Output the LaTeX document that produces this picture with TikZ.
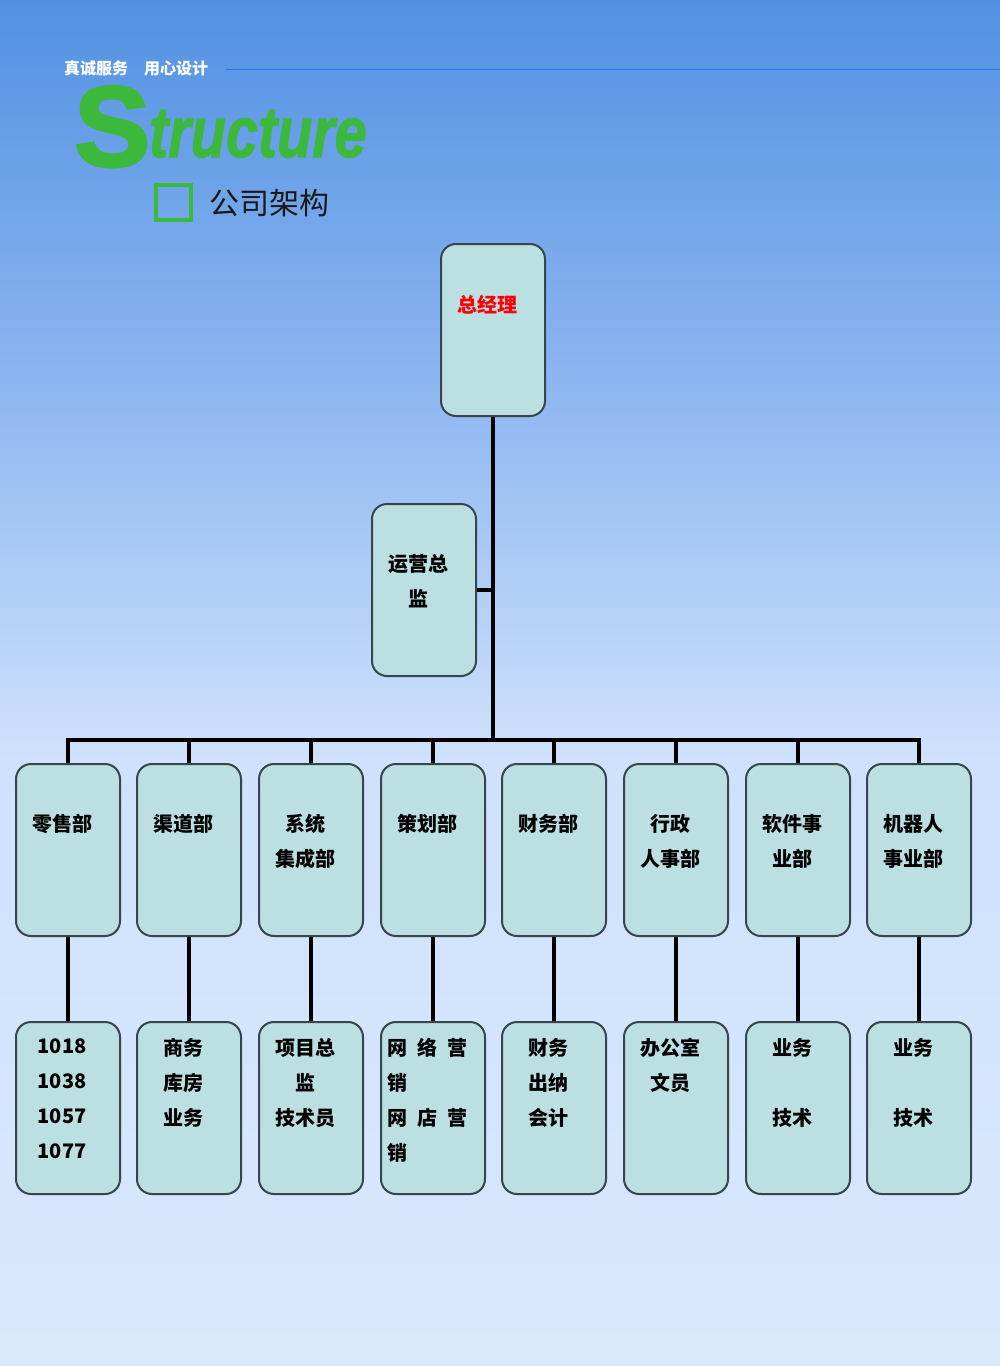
\documentclass[tikz,border=0pt]{standalone}
\usepackage{fontspec}
\setmainfont{Liberation Sans}
\newfontfamily\cjk{Noto Sans CJK SC}
\newfontfamily\heavy[FakeBold=2.5]{Liberation Sans Bold}
\newfontfamily\heavyit[FakeBold=1.5]{Liberation Sans Bold Italic}
\usepackage{tikz}
\usetikzlibrary{calc, positioning}
\definecolor{bgtop}{RGB}{82,145,226}
\definecolor{bgmid}{RGB}{140,182,240}
\definecolor{bglow}{RGB}{207,226,252}
\definecolor{bgend}{RGB}{216,232,253}
\definecolor{boxfill}{RGB}{188,223,226}
\definecolor{boxline}{RGB}{55,70,78}
\definecolor{grn}{RGB}{60,185,60}
\definecolor{rule}{RGB}{30,125,224}
\tikzset{
  box/.style={draw=boxline, fill=boxfill, line width=2pt, rounded corners=15pt,
    minimum width=104pt, minimum height=172pt, inner sep=0pt},
  txt/.style={font=\cjk\bfseries\fontsize{20}{35}\selectfont, align=center,
    anchor=north, inner sep=0pt},
  link/.style={line width=4pt, black}
}

\begin{document}
\begin{tikzpicture}[x=1pt, y=-1pt]
    \useasboundingbox (0,0) rectangle (1000,1366);
    % background
    \shade[top color=bgtop, bottom color=bglow, middle color=bgmid] (0,0) rectangle (1000,760);
    \shade[top color=bglow, bottom color=bgend] (0,760) rectangle (1000,1366);

    % header
    \node[anchor=base west, inner sep=0pt, text=white, font=\cjk\bfseries\fontsize{16}{16}\selectfont] (motto) at (64,74) {真诚服务\hspace{16pt}用心设计};
    \draw[rule, line width=0.8pt] (226,69) -- (1000,69);
    \node[anchor=base west, inner sep=0pt, text=grn, font=\heavy\fontsize{114}{114}\selectfont] (bigs) at (74,166) {S};
    \node[anchor=base west, inner sep=0pt, text=grn, xscale=0.8, font=\heavyit\fontsize{72}{72}\selectfont] (word) at (149,157) {tructure};
    \node[draw=grn, line width=4pt, minimum size=35pt, inner sep=0pt] (sq) at (173,202) {};
    \node[anchor=west, inner sep=0pt, font=\cjk\fontsize{30}{30}\selectfont, text=black!90] (title) at (209,203) {公司架构};

    % boxes
    \node[box] (gm)  at (493,330) {};
    \node[box] (ops) at (424,590) {};
    \node[box] (d1) at (68,850) {};
    \node[box] (d2) at (189,850) {};
    \node[box] (d3) at (311,850) {};
    \node[box] (d4) at (433,850) {};
    \node[box] (d5) at (554,850) {};
    \node[box] (d6) at (676,850) {};
    \node[box] (d7) at (798,850) {};
    \node[box] (d8) at (919,850) {};
    \node[box] (s1) at (68,1108) {};
    \node[box] (s2) at (189,1108) {};
    \node[box] (s3) at (311,1108) {};
    \node[box] (s4) at (433,1108) {};
    \node[box] (s5) at (554,1108) {};
    \node[box] (s6) at (676,1108) {};
    \node[box] (s7) at (798,1108) {};
    \node[box] (s8) at (919,1108) {};

    % labels
    \node[txt, text=red] (gmt) at (487,295) {总经理};
    \node[txt] (opst) at (418,554) {运营总\\监};
    \node[txt] (d1t) at (62,814) {零售部};
    \node[txt] (d2t) at (183,814) {渠道部};
    \node[txt] (d3t) at (305,814) {系统\\集成部};
    \node[txt] (d4t) at (427,814) {策划部};
    \node[txt] (d5t) at (548,814) {财务部};
    \node[txt] (d6t) at (670,814) {行政\\人事部};
    \node[txt] (d7t) at (792,814) {软件事\\业部};
    \node[txt] (d8t) at (913,814) {机器人\\事业部};
    \node[txt] (s1t) at (62,1038) {1018\\1038\\1057\\1077};
    \node[txt] (s2t) at (183,1038) {商务\\库房\\业务};
    \node[txt] (s3t) at (305,1038) {项目总\\监\\技术员};
    \node[txt, align=left] (s4t) at (427,1038) {网\hspace{10pt}络\hspace{10pt}营\\销\\网\hspace{10pt}店\hspace{10pt}营\\销};
    \node[txt] (s5t) at (548,1038) {财务\\出纳\\会计};
    \node[txt] (s6t) at (670,1038) {办公室\\文员};
    \node[txt] (s7t) at (792,1038) {业务\\[35pt]技术};
    \node[txt] (s8t) at (913,1038) {业务\\[35pt]技术};

    % connectors
    \coordinate (bus) at (493,740);
    \draw[link] (gm.south) -- (bus);
    \draw[link] (ops.east) -- (ops.east -| gm.south);
    \draw[link] (d1.north) |- (bus) -| (d8.north);
    \foreach \i in {2,...,7}
      \draw[link] (d\i.north) -- (d\i.north |- bus);
    \foreach \i in {1,...,8}
      \draw[link] (d\i.south) -- (s\i.north);
\end{tikzpicture}
\end{document}
